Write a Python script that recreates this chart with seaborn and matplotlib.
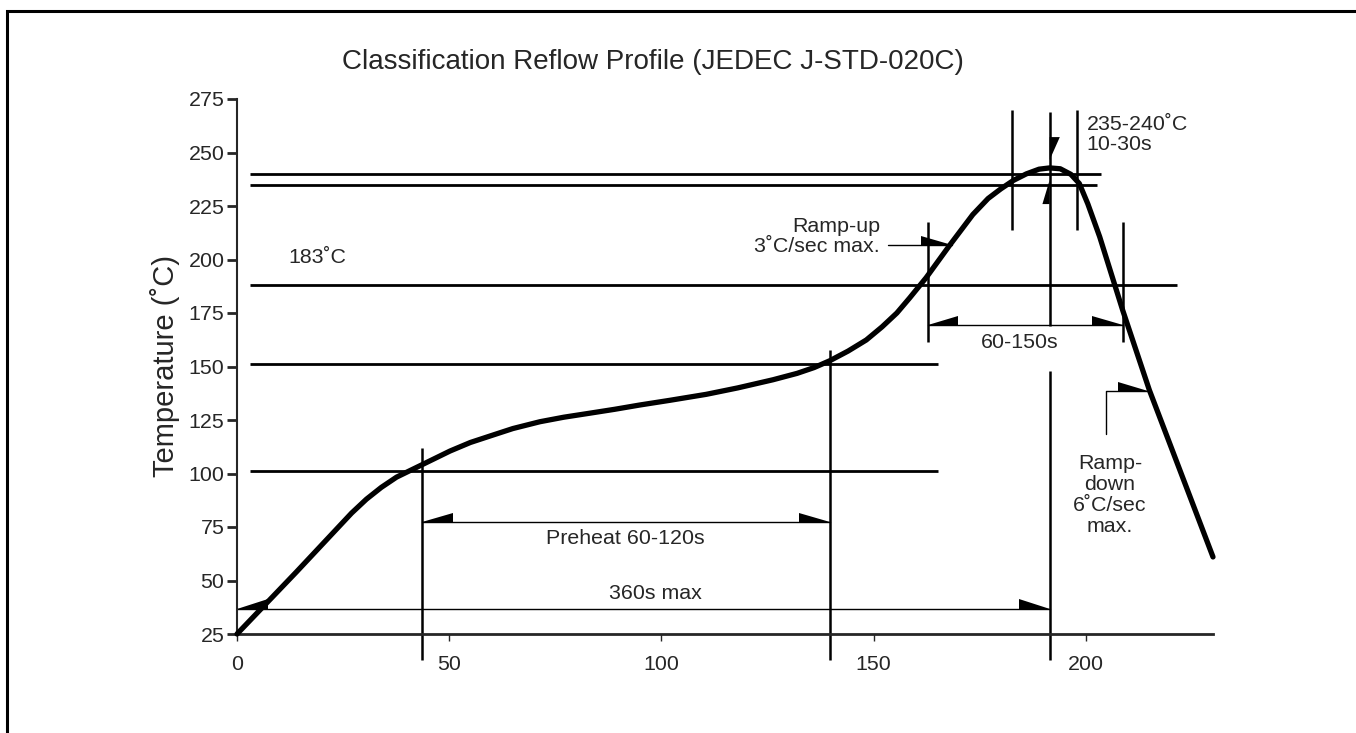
import numpy as np
import pandas as pd
import matplotlib.pyplot as plt
import seaborn as sns
from matplotlib.patches import Rectangle

# reflow curve
time_s = [0, 14, 27, 30.5, 34, 37.6, 43.5, 50.2, 55, 59.6, 65, 71.4, 77, 83.2,
          89, 94.9, 102, 110.6, 118, 126.3, 132, 136, 139.7, 144, 148.3, 152,
          155.5, 158.5, 162.4, 168, 173.4, 177, 180, 183, 186, 189, 191.5,
          194, 196.5, 198.5, 200.5, 203.3, 208.7, 215, 230]
temp_c = [25, 54, 81.5, 88, 93.5, 98.3, 104, 110.5, 114.5, 117.5, 121, 124.2,
          126.3, 128.2, 130, 132, 134.2, 137, 140, 143.8, 146.8, 149.5, 152.7,
          157.2, 162.4, 168.5, 175, 182, 191.5, 206.8, 221, 228.5, 233, 237,
          240, 242.2, 242.8, 242.4, 239.8, 235.5, 226, 210.6, 176.4, 139, 61]

# horizontal temperature levels
level_temp = [240, 235, 188, 151, 101]
level_x0 = [3, 3, 3, 3, 3]
level_x1 = [203.5, 202.6, 221.4, 165.1, 165.1]

# vertical time markers
mark_x = [43.6, 139.7, 162.8, 182.7, 191.5, 191.5, 198.0, 208.7]
mark_lo = [12.9, 12.9, 161.4, 213.8, 168.9, 12.9, 213.8, 161.4]
mark_hi = [112, 157.7, 217.5, 269.8, 269.0, 147.9, 269.8, 217.5]

# dimension arrows (both ends)
dim_y = [77.3, 36.9, 169.4]
dim_x0 = [43.6, 0, 162.8]
dim_x1 = [139.7, 191.5, 208.7]

# pointers
ramp_up_x = [153.3, 168.4]
ramp_up_y = [206.8, 206.8]
ramp_dn_x = [204.9, 204.9, 214.8]
ramp_dn_y = [118.5, 138.6, 138.6]
peak_x = 191.5
peak_down_tip, peak_down_base = 246.5, 257.2
peak_up_tip, peak_up_base = 237.1, 225.9

x_ticks = [0, 50, 100, 150, 200]
y_ticks = [25, 50, 75, 100, 125, 150, 175, 200, 225, 250, 275]

HEAD_L = 7.2
HEAD_H = 4.3

sns.set_style("white")
plt.rcParams['font.family'] = ['Liberation Sans', 'DejaVu Sans']

fig = plt.figure(figsize=(13.56, 7.33), dpi=100)
ax = fig.add_axes([237/1356, 1-634/733, (1213-237)/1356, (634-99)/733])


def head(x, y, sign):
    # half arrowhead sitting above the line, tip at (x, y)
    ax.fill([x, x - sign*HEAD_L, x - sign*HEAD_L], [y, y, y + HEAD_H],
            color='black', lw=0, clip_on=False, zorder=4)


df = pd.DataFrame({'time': time_s, 'temp': temp_c})
sns.lineplot(data=df, x='time', y='temp', color='black', lw=3.8, ax=ax,
             clip_on=False, zorder=5, sort=False, solid_joinstyle='round')

for t, a, b in zip(level_temp, level_x0, level_x1):
    ax.plot([a, b], [t, t], color='black', lw=2, solid_capstyle='butt')

for x, lo, hi in zip(mark_x, mark_lo, mark_hi):
    ax.plot([x, x], [lo, hi], color='black', lw=1.8, clip_on=False,
            solid_capstyle='butt')

for y, a, b in zip(dim_y, dim_x0, dim_x1):
    ax.plot([a, b], [y, y], color='black', lw=1.0, clip_on=False)
    head(a, y, -1)
    head(b, y, 1)

ax.plot(ramp_up_x, ramp_up_y, color='black', lw=1.0)
head(ramp_up_x[-1], ramp_up_y[-1], 1)
ax.plot(ramp_dn_x, ramp_dn_y, color='black', lw=1.0)
head(ramp_dn_x[-1], ramp_dn_y[-1], 1)

ax.fill([peak_x, peak_x + 2.4, peak_x], [peak_down_base, peak_down_base, peak_down_tip],
        color='black', lw=0, zorder=4)
ax.fill([peak_x, peak_x - 1.7, peak_x], [peak_up_base, peak_up_base, peak_up_tip],
        color='black', lw=0, zorder=4)

fs = 15.4
ax.text(12, 201, '183˚C', fontsize=fs, va='center', ha='left')
ax.text(151.5, 210.7, 'Ramp-up\n3˚C/sec max.', fontsize=fs, va='center', ha='right',
        multialignment='right', linespacing=1.05)
ax.text(200.2, 258.5, '235-240˚C\n10-30s', fontsize=fs, va='center', ha='left',
        linespacing=1.05)
ax.text(184.4, 161, '60-150s', fontsize=fs, va='center', ha='center')
ax.text(205.7, 90, 'Ramp-\ndown\n6˚C/sec\nmax.', fontsize=fs, va='center', ha='center',
        multialignment='center', linespacing=1.15)
ax.text(91.4, 69.4, 'Preheat 60-120s', fontsize=fs, va='center', ha='center')
ax.text(98.7, 43.7, '360s max', fontsize=fs, va='center', ha='center')

ax.set_xlim(0, 230)
ax.set_ylim(25, 275)
ax.set_xticks(x_ticks)
ax.set_yticks(y_ticks)
ax.set_xlabel('')
ax.set_ylabel('')
sns.despine(ax=ax)
ax.spines['left'].set_linewidth(1.5)
ax.spines['bottom'].set_linewidth(2)
ax.tick_params(axis='y', length=7, width=2, direction='out', labelsize=fs, pad=2,
               left=True)
ax.tick_params(axis='x', length=5, width=1, direction='out', labelsize=fs, pad=10,
               bottom=True)

fig.text(652.5/1356, 1-62/733, 'Classification Reflow Profile (JEDEC J-STD-020C)',
         fontsize=20, ha='center', va='center')
fig.text(165/1356, 1-366/733, 'Temperature (˚C)', fontsize=21, rotation=90,
         ha='center', va='center')

fig.patches.append(Rectangle((7/1356, -0.2), 2, 1.2 - 11/733, transform=fig.transFigure,
                             fill=False, ec='black', lw=2.2))

fig.savefig('out.png', dpi=100)
